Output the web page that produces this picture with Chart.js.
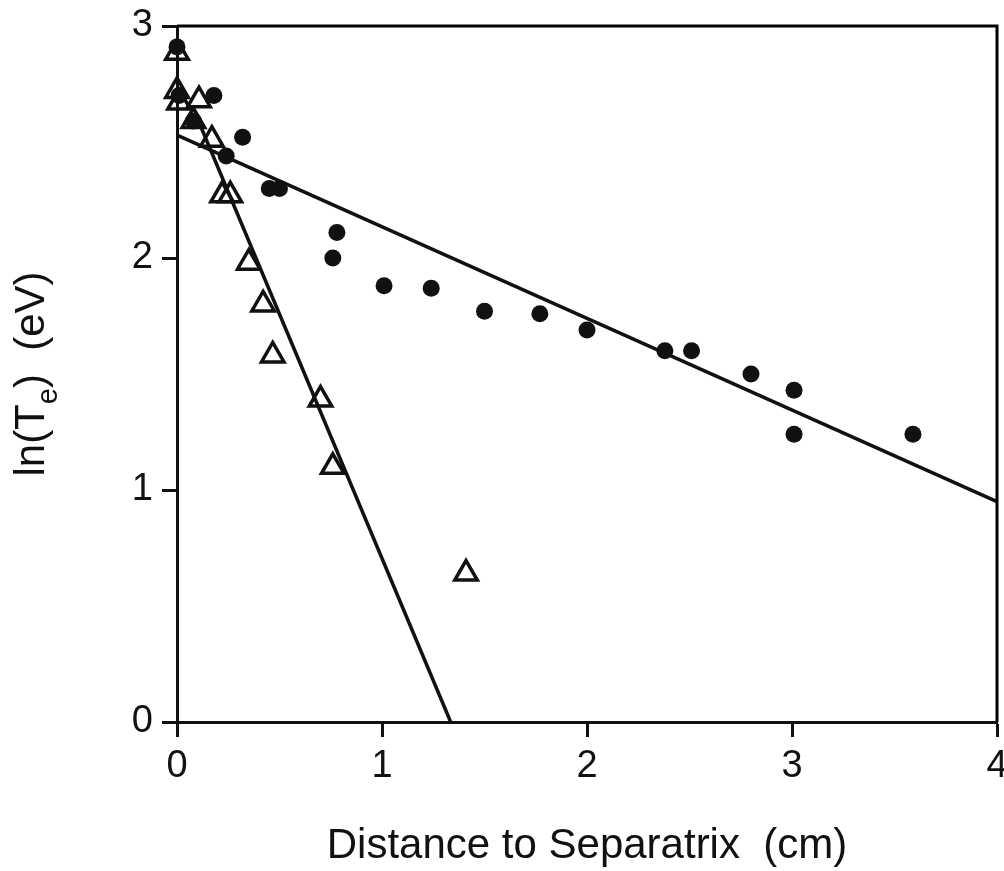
<!DOCTYPE html>
<html>
<head>
<meta charset="utf-8">
<script src="https://cdn.jsdelivr.net/npm/chart.js@4.4.1/dist/chart.umd.min.js"></script>
<style>
  html, body { margin: 0; padding: 0; background: #fff; overflow: hidden; }
  #wrap { width: 1004px; height: 871px; }
</style>
</head>
<body>
<div id="wrap"><canvas id="myChart"></canvas></div>
<script>
// filled circles
var circleX = [0.00, 0.01, 0.08, 0.18, 0.24, 0.32, 0.45, 0.50, 0.76, 0.78, 1.01, 1.24, 1.50, 1.77, 2.00, 2.38, 2.51, 2.80, 3.01, 3.01, 3.59];
var circleY = [2.91, 2.70, 2.59, 2.70, 2.44, 2.52, 2.30, 2.30, 2.00, 2.11, 1.88, 1.87, 1.77, 1.76, 1.69, 1.60, 1.60, 1.50, 1.43, 1.24, 1.24];
// open triangles
var triX = [0.00, 0.00, 0.01, 0.107, 0.08, 0.17, 0.22, 0.26, 0.35, 0.42, 0.467, 0.70, 0.76, 1.41];
var triY = [2.885, 2.72, 2.67, 2.68, 2.59, 2.51, 2.27, 2.27, 1.98, 1.80, 1.58, 1.39, 1.10, 0.64];
// fitted lines (end points)
var fitSlowX = [0, 4];
var fitSlowY = [2.53, 0.95];
var fitFastX = [0.10, 1.335];
var fitFastY = [2.60, 0];
// ticks
var xTicks = [0, 1, 2, 3, 4];
var yTicks = [0, 1, 2, 3];

function pts(xs, ys) {
	return xs.map(function(x, i){ return {x: x, y: ys[i]}; });
}

var FONT = "'Liberation Sans', Arial, Helvetica, sans-serif";

// 大標記不要再把繪圖區往內縮
if (Chart.ScatterController) {
	Chart.ScatterController.prototype.getMaxOverflow = function(){ return 0; };
}

// 外框和軸標題
var framePlugin = {
	id: 'frame',
	afterDraw: function(chart) {
		var ctx = chart.ctx, a = chart.chartArea;
		ctx.save();
		ctx.strokeStyle = '#000';
		ctx.lineWidth = 3;
		ctx.beginPath();
		ctx.moveTo(a.left, a.top);
		ctx.lineTo(a.right, a.top);
		ctx.lineTo(a.right, a.bottom);
		ctx.stroke();

		ctx.fillStyle = '#111';
		// x title
		ctx.font = '42px ' + FONT;
		ctx.textAlign = 'center';
		ctx.textBaseline = 'alphabetic';
		ctx.fillText('Distance to Separatrix  (cm)', (a.left + a.right) / 2, 858);

		// y title with subscript
		var big = '42px ' + FONT, small = '29px ' + FONT;
		ctx.font = big;
		var w1 = ctx.measureText('ln(T').width;
		var w3 = ctx.measureText(')  (eV)').width;
		ctx.font = small;
		var w2 = ctx.measureText('e').width;
		var total = w1 + w2 + w3;
		ctx.translate(44, (a.top + a.bottom) / 2);
		ctx.rotate(-Math.PI / 2);
		ctx.textAlign = 'left';
		var x0 = -total / 2;
		ctx.font = big;
		ctx.fillText('ln(T', x0, 0);
		ctx.font = small;
		ctx.fillText('e', x0 + w1, 13);
		ctx.font = big;
		ctx.fillText(')  (eV)', x0 + w1 + w2, 0);
		ctx.restore();
	}
};

var ctx = document.getElementById('myChart');
var myChart = new Chart(ctx, {
	type: 'scatter',
	data: {
		datasets: [{
			label: 'circles',
			data: pts(circleX, circleY),
			pointStyle: 'circle',
			pointRadius: 8.5,
			pointBackgroundColor: '#111',
			pointBorderColor: '#111',
			pointBorderWidth: 0,
			clip: false
		}, {
			label: 'triangles',
			data: pts(triX, triY),
			pointStyle: 'triangle',
			pointRadius: 13,
			pointBackgroundColor: 'rgba(255,255,255,0)',
			pointBorderColor: '#111',
			pointBorderWidth: 3.5,
			clip: false
		}, {
			label: 'fit1',
			data: pts(fitSlowX, fitSlowY),
			showLine: true,
			borderColor: '#111',
			borderWidth: 3.5,
			pointRadius: 0,
			clip: false
		}, {
			label: 'fit2',
			data: pts(fitFastX, fitFastY),
			showLine: true,
			borderColor: '#111',
			borderWidth: 3.5,
			pointRadius: 0,
			clip: false
		}]
	},
	options: {
		responsive: true,
		maintainAspectRatio: false,
		animation: false,
		layout: { padding: { top: 26, right: 7, left: 0, bottom: 0 } },
		plugins: {
			legend: { display: false },
			tooltip: { enabled: false }
		},
		scales: {
			x: {
				type: 'linear',
				min: 0, max: 4,
				afterFit: function(s){ s.height = 149; s.paddingLeft = 0; s.paddingRight = 0; },
				afterBuildTicks: function(s){ s.ticks = xTicks.map(function(v){ return {value: v}; }); },
				grid: { drawOnChartArea: false, drawTicks: true, tickLength: 15, tickWidth: 3, tickColor: '#111' },
				border: { display: true, color: '#111', width: 3 },
				ticks: { color: '#111', padding: 7, font: { family: FONT, size: 38 } }
			},
			y: {
				type: 'linear',
				min: 0, max: 3,
				afterFit: function(s){ s.width = 177; s.paddingTop = 0; s.paddingBottom = 0; },
				afterBuildTicks: function(s){ s.ticks = yTicks.map(function(v){ return {value: v}; }); },
				grid: { drawOnChartArea: false, drawTicks: true, tickLength: 15, tickWidth: 3, tickColor: '#111' },
				border: { display: true, color: '#111', width: 3 },
				ticks: { color: '#111', padding: 9, font: { family: FONT, size: 38 } }
			}
		}
	},
	plugins: [framePlugin]
});
</script>
</body>
</html>
